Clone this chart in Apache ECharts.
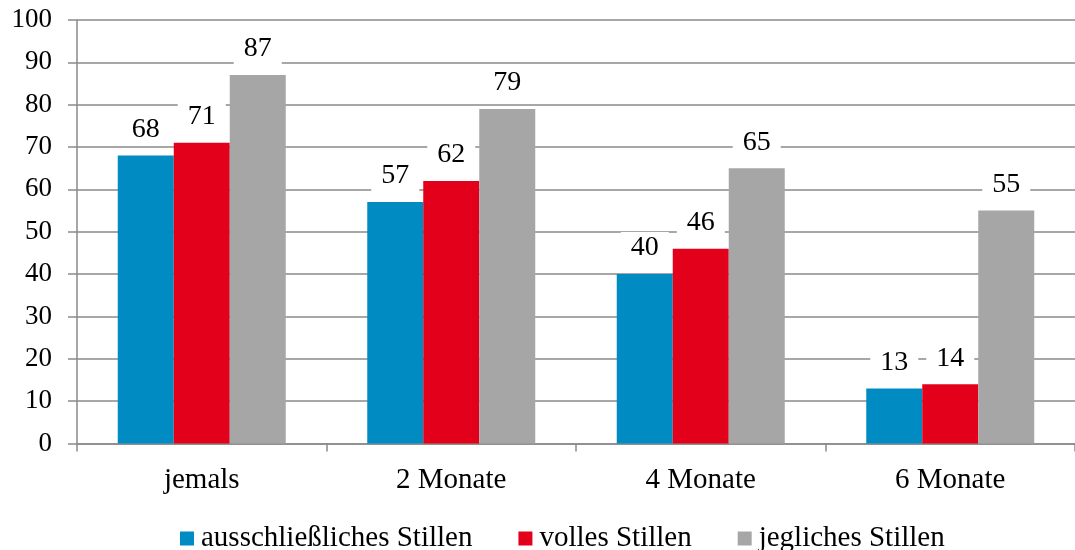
<!DOCTYPE html>
<html>
<head>
<meta charset="utf-8">
<script src="https://cdn.jsdelivr.net/npm/echarts@6/dist/echarts.min.js"></script>
<style>
  html, body { margin: 0; padding: 0; background: #fff; }
  #chart { width: 1075px; height: 550px; }
</style>
</head>
<body>
<div id="chart"></div>
<script>
const categories = ['jemals', '2 Monate', '4 Monate', '6 Monate']
const seriesNames = ['ausschließliches Stillen', 'volles Stillen', 'jegliches Stillen']
const exclusive = [68, 57, 40, 13]
const full = [71, 62, 46, 14]
const any = [87, 79, 65, 55]
const colors = ['#008bc2', '#e2001a', '#a6a6a6']

const font = "'Liberation Serif', 'Times New Roman', serif"
const chart = echarts.init(document.getElementById('chart'))

const makeSeries = (name, data, color) => ({
  name: name,
  type: 'bar',
  data: data,
  barWidth: 56,
  barGap: '0%',
  itemStyle: { color: color },
  label: {
    show: true,
    position: 'top',
    distance: 10,
    fontFamily: font,
    fontSize: 28,
    color: '#000',
    backgroundColor: '#fff',
    padding: [2, 10]
  }
})

chart.setOption({
  animation: false,
  textStyle: { fontFamily: font },
  legend: {
    top: 519,
    left: 175,
    itemWidth: 14,
    itemHeight: 14,
    itemGap: 46,
    icon: 'rect',
    textStyle: { fontFamily: font, fontSize: 29, color: '#000', padding: [0, 0, 0, 2] },
    data: seriesNames
  },
  grid: {
    left: 77,
    top: 20,
    width: 1008,
    height: 423.5
  },
  xAxis: {
    type: 'category',
    data: categories,
    axisLine: { lineStyle: { color: '#8a8a8a', width: 1.5 } },
    axisTick: { show: true, length: 8, lineStyle: { color: '#8a8a8a', width: 1.5 } },
    axisLabel: { fontFamily: font, fontSize: 29, color: '#000', margin: 22 }
  },
  yAxis: {
    type: 'value',
    min: 0,
    max: 100,
    interval: 10,
    axisLine: { show: true, lineStyle: { color: '#8a8a8a', width: 1.5 } },
    axisTick: { show: true, length: 9, lineStyle: { color: '#8a8a8a', width: 1.5 } },
    axisLabel: { fontFamily: font, fontSize: 27, color: '#000', margin: 25 },
    splitLine: { lineStyle: { color: '#8a8a8a', width: 1.5 } }
  },
  series: [
    makeSeries(seriesNames[0], exclusive, colors[0]),
    makeSeries(seriesNames[1], full, colors[1]),
    makeSeries(seriesNames[2], any, colors[2])
  ]
})
</script>
</body>
</html>
